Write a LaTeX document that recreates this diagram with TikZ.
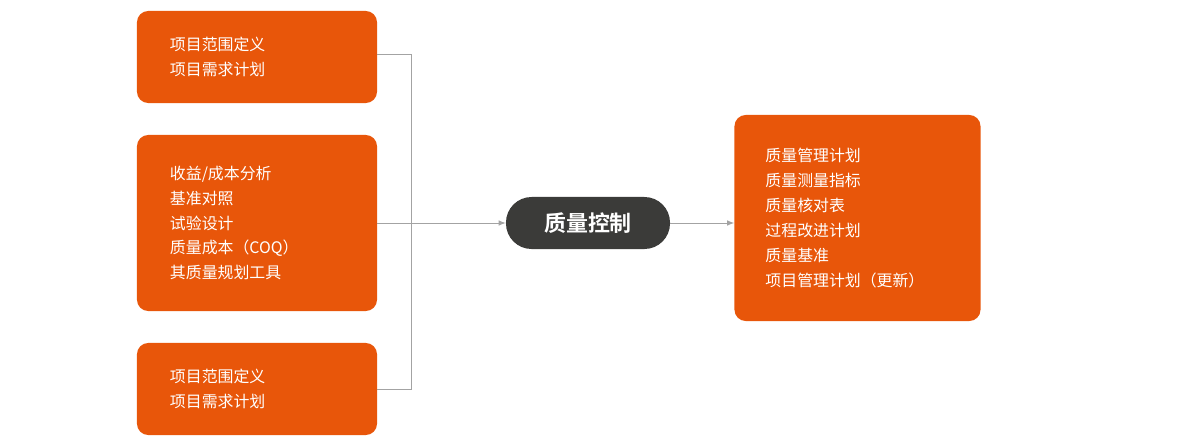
\documentclass[tikz,border=0pt]{standalone}
\usepackage{fontspec}
\usepackage{xcolor}
\usepackage{tikz}
\usetikzlibrary{arrows.meta}
\setmainfont{Noto Sans CJK SC}[BoldFont=Noto Sans CJK SC Bold]
\definecolor{qcorange}{HTML}{E8560A}
\definecolor{qcdark}{HTML}{3B3B39}
\definecolor{qcline}{HTML}{A3A3A3}

\begin{document}
\begin{tikzpicture}[x=0.025cm,y=-0.025cm]
\tikzstyle{inbox}=[fill=qcorange, text=white, rounded corners=8pt, align=left,
  font=\fontsize{11.3pt}{17.7pt}\selectfont, inner ysep=0pt]
\tikzstyle{hub}=[fill=qcdark, text=white, rounded corners=0.64cm, font=\fontsize{15.6pt}{17pt}\selectfont\bfseries,
  minimum width=4.1cm, minimum height=1.3cm]
\tikzstyle{link}=[draw=qcline, line width=0.7pt]
\useasboundingbox (0,0) rectangle (1180,448);
% inputs
\node[inbox, text width=4.35cm, inner xsep=0.825cm, minimum height=2.3cm] (in1) at (257,57)
  {项目范围定义\\项目需求计划};
\node[inbox, text width=4.35cm, inner xsep=0.825cm, minimum height=4.4cm] (in2) at (257,223)
  {收益/成本分析\\基准对照\\试验设计\\质量成本（COQ）\\其质量规划工具};
\node[inbox, text width=4.35cm, inner xsep=0.825cm, minimum height=2.3cm] (in3) at (257,389)
  {项目范围定义\\项目需求计划};
% process
\node[hub] (ctrl) at (588,223) {质量控制};
% outputs
\node[inbox, text width=4.6cm, inner xsep=0.775cm, minimum height=5.15cm] (out) at (857.5,218)
  {质量管理计划\\质量测量指标\\质量核对表\\过程改进计划\\质量基准\\项目管理计划（更新）};
\coordinate (j) at (411,223);
\draw[link] ([yshift=0.075cm]in1.east) -| (j);
\draw[link] (in3.east) -| (j);
\draw[link, -{Latex[length=5pt,width=4pt]}] (in2.east) -- (ctrl.west);
\draw[link, -{Latex[length=5pt,width=4pt]}] (ctrl.east) -- (out.west |- ctrl.east);
\end{tikzpicture}
\end{document}
